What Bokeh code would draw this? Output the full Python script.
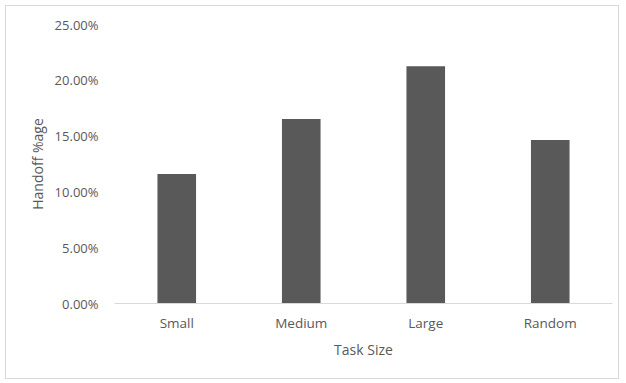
from bokeh.plotting import figure
from bokeh.models import Range1d, NumeralTickFormatter, FixedTicker
from bokeh.embed import file_html
from bokeh.resources import INLINE

categories = ["Small", "Medium", "Large", "Random"]
handoff = [0.116, 0.1654, 0.2126, 0.1466]
y_ticks = [0.0, 0.05, 0.10, 0.15, 0.20, 0.25]

FONT = "Open Sans"
TXT = "#595959"

# figure sits inside a light-grey border drawn around the whole chart
p = figure(x_range=categories, width=614, height=374, output_backend="svg",
           toolbar_location=None, min_border_left=108, min_border_right=8,
           min_border_top=18, min_border_bottom=77)
p.margin = (5, 0, 0, 5)
p.styles = {"border": "1px solid #d9d9d9"}
p.y_range = Range1d(0, 0.25)
p.vbar(x=categories, top=handoff, width=0.31, fill_color="#595959", line_color=None)

p.outline_line_color = None
p.xgrid.grid_line_color = None
p.ygrid.grid_line_color = None
p.background_fill_color = "white"
p.border_fill_color = "white"

ya = p.yaxis[0]
ya.ticker = FixedTicker(ticks=y_ticks)
ya.formatter = NumeralTickFormatter(format="0.00%")
ya.axis_line_color = None
ya.major_tick_line_color = None
ya.minor_tick_line_color = None
ya.major_label_standoff = 10
ya.major_label_text_font = FONT
ya.major_label_text_font_size = "13px"
ya.major_label_text_color = TXT
ya.axis_label = "Handoff %age"
ya.axis_label_text_font = FONT
ya.axis_label_text_font_size = "14px"
ya.axis_label_text_font_style = "normal"
ya.axis_label_text_color = TXT
ya.axis_label_standoff = 5

xa = p.xaxis[0]
xa.axis_line_color = "#d9d9d9"
xa.axis_line_width = 1
xa.major_tick_line_color = None
xa.minor_tick_line_color = None
xa.major_label_standoff = 4
xa.major_label_text_font = FONT
xa.major_label_text_font_size = "13.5px"
xa.major_label_text_color = TXT
xa.axis_label = "Task Size"
xa.axis_label_text_font = FONT
xa.axis_label_text_font_size = "14px"
xa.axis_label_text_font_style = "normal"
xa.axis_label_text_color = TXT
xa.axis_label_standoff = 5

open("out.html", "w").write(file_html(p, INLINE))
